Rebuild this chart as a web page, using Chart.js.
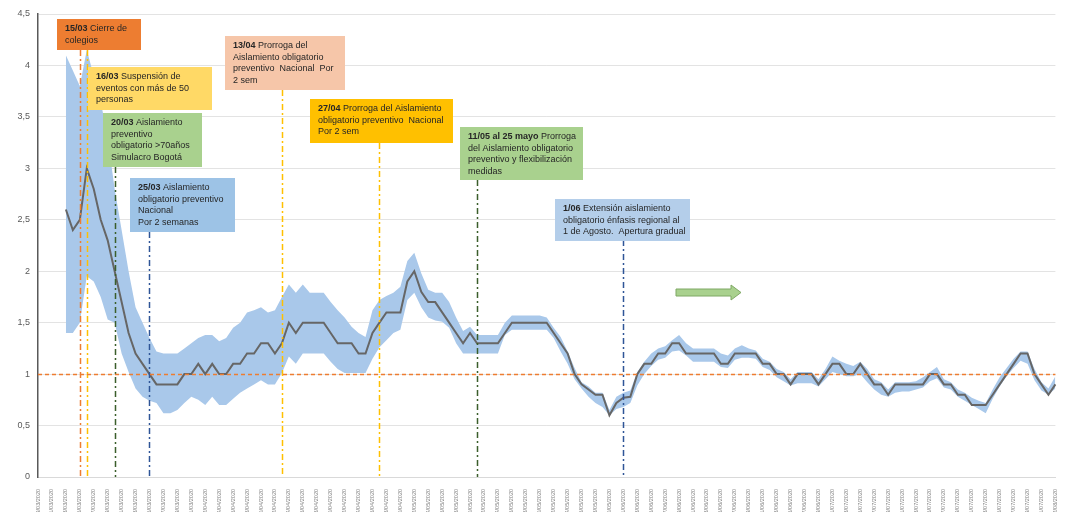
<!DOCTYPE html>
<html>
<head>
<meta charset="utf-8">
<script src="https://cdn.jsdelivr.net/npm/chart.js@4.4.1/dist/chart.umd.min.js"></script>
<style>
  html, body { margin: 0; padding: 0; background: #fff; }
  canvas { display: block; }
</style>
</head>
<body>
<canvas id="grafico" width="1066" height="512"></canvas>
<script>
// fechas diarias del eje x
const fechas = [
  '09/03/2020','10/03/2020','11/03/2020','12/03/2020','13/03/2020','14/03/2020','15/03/2020','16/03/2020','17/03/2020','18/03/2020',
  '19/03/2020','20/03/2020','21/03/2020','22/03/2020','23/03/2020','24/03/2020','25/03/2020','26/03/2020','27/03/2020','28/03/2020',
  '29/03/2020','30/03/2020','31/03/2020','01/04/2020','02/04/2020','03/04/2020','04/04/2020','05/04/2020','06/04/2020','07/04/2020',
  '08/04/2020','09/04/2020','10/04/2020','11/04/2020','12/04/2020','13/04/2020','14/04/2020','15/04/2020','16/04/2020','17/04/2020',
  '18/04/2020','19/04/2020','20/04/2020','21/04/2020','22/04/2020','23/04/2020','24/04/2020','25/04/2020','26/04/2020','27/04/2020',
  '28/04/2020','29/04/2020','30/04/2020','01/05/2020','02/05/2020','03/05/2020','04/05/2020','05/05/2020','06/05/2020','07/05/2020',
  '08/05/2020','09/05/2020','10/05/2020','11/05/2020','12/05/2020','13/05/2020','14/05/2020','15/05/2020','16/05/2020','17/05/2020',
  '18/05/2020','19/05/2020','20/05/2020','21/05/2020','22/05/2020','23/05/2020','24/05/2020','25/05/2020','26/05/2020','27/05/2020',
  '28/05/2020','29/05/2020','30/05/2020','31/05/2020','01/06/2020','02/06/2020','03/06/2020','04/06/2020','05/06/2020','06/06/2020',
  '07/06/2020','08/06/2020','09/06/2020','10/06/2020','11/06/2020','12/06/2020','13/06/2020','14/06/2020','15/06/2020','16/06/2020',
  '17/06/2020','18/06/2020','19/06/2020','20/06/2020','21/06/2020','22/06/2020','23/06/2020','24/06/2020','25/06/2020','26/06/2020',
  '27/06/2020','28/06/2020','29/06/2020','30/06/2020','01/07/2020','02/07/2020','03/07/2020','04/07/2020','05/07/2020','06/07/2020',
  '07/07/2020','08/07/2020','09/07/2020','10/07/2020','11/07/2020','12/07/2020','13/07/2020','14/07/2020','15/07/2020','16/07/2020',
  '17/07/2020','18/07/2020','19/07/2020','20/07/2020','21/07/2020','22/07/2020','23/07/2020','24/07/2020','25/07/2020','26/07/2020',
  '27/07/2020','28/07/2020','29/07/2020','30/07/2020','31/07/2020','01/08/2020','02/08/2020'
];

// Rt estimado
const rt = [null, null, null, null,
  2.6, 2.4, 2.5, 3.0, 2.8, 2.5, 2.3, 2.0, 1.7, 1.4,
  1.2, 1.1, 1.0, 0.9, 0.9, 0.9, 0.9, 1.0, 1.0, 1.1,
  1.0, 1.1, 1.0, 1.0, 1.1, 1.1, 1.2, 1.2, 1.3, 1.3,
  1.2, 1.3, 1.5, 1.4, 1.5, 1.5, 1.5, 1.5, 1.4, 1.3,
  1.3, 1.3, 1.2, 1.2, 1.4, 1.5, 1.6, 1.6, 1.6, 1.9,
  2.0, 1.8, 1.7, 1.7, 1.6, 1.5, 1.4, 1.3, 1.4, 1.3,
  1.3, 1.3, 1.3, 1.4, 1.5, 1.5, 1.5, 1.5, 1.5, 1.5,
  1.4, 1.3, 1.2, 1.0, 0.9, 0.85, 0.8, 0.8, 0.6, 0.72,
  0.77, 0.78, 1.0, 1.1, 1.1, 1.2, 1.2, 1.3, 1.3, 1.2,
  1.2, 1.2, 1.2, 1.2, 1.1, 1.1, 1.2, 1.2, 1.2, 1.2,
  1.1, 1.1, 1.0, 1.0, 0.9, 1.0, 1.0, 1.0, 0.9, 1.0,
  1.1, 1.1, 1.0, 1.0, 1.1, 1.0, 0.9, 0.9, 0.8, 0.9,
  0.9, 0.9, 0.9, 0.9, 1.0, 1.0, 0.9, 0.9, 0.8, 0.8,
  0.7, 0.7, 0.7, 0.8, 0.9, 1.0, 1.1, 1.2, 1.2, 1.0,
  0.9, 0.8, 0.9
];

// limite superior del intervalo
const rtAlto = [null, null, null, null,
  4.1, 3.95, 3.8, 4.15, 3.9, 3.65, 3.3, 2.8, 2.4, 2.0,
  1.65, 1.5, 1.35, 1.22, 1.2, 1.2, 1.2, 1.25, 1.3, 1.35,
  1.38, 1.38, 1.32, 1.35, 1.45, 1.5, 1.6, 1.62, 1.65, 1.6,
  1.62, 1.75, 1.87, 1.79, 1.87, 1.79, 1.79, 1.79, 1.7, 1.62,
  1.55, 1.46, 1.4, 1.36, 1.62, 1.72, 1.76, 1.79, 1.85, 2.1,
  2.18, 1.98, 1.82, 1.79, 1.79, 1.7, 1.55, 1.42, 1.46, 1.38,
  1.38, 1.38, 1.38, 1.5, 1.57, 1.57, 1.57, 1.57, 1.57, 1.55,
  1.45, 1.36, 1.22, 1.06, 0.92, 0.88, 0.82, 0.82, 0.65, 0.78,
  0.82, 0.84, 1.02, 1.12, 1.2, 1.25, 1.27, 1.33, 1.38, 1.3,
  1.25, 1.25, 1.25, 1.25, 1.2, 1.18, 1.25, 1.28, 1.25, 1.23,
  1.15, 1.12, 1.05, 1.02, 0.95, 1.02, 1.02, 1.02, 0.95, 1.05,
  1.17, 1.13, 1.1, 1.08, 1.12, 1.05, 0.95, 0.92, 0.85, 0.92,
  0.92, 0.92, 0.93, 0.97, 1.02, 1.07, 0.95, 0.92, 0.85, 0.82,
  0.77, 0.74, 0.72, 0.85, 0.97, 1.06, 1.15, 1.22, 1.22, 1.05,
  0.92, 0.86, 0.98
];

// limite inferior del intervalo
const rtBajo = [null, null, null, null,
  1.4, 1.4, 1.5, 1.95, 1.9, 1.75, 1.53, 1.5, 1.2, 1.02,
  0.86, 0.78, 0.74, 0.72, 0.62, 0.62, 0.65, 0.72, 0.78, 0.75,
  0.7, 0.78, 0.7, 0.7, 0.76, 0.82, 0.86, 0.9, 0.94, 0.9,
  0.9, 1.01, 1.17, 1.1, 1.2, 1.2, 1.2, 1.2, 1.12, 1.05,
  1.01, 1.01, 1.01, 1.01, 1.15, 1.26, 1.33, 1.4, 1.43, 1.72,
  1.79, 1.65, 1.55, 1.52, 1.51, 1.45, 1.3, 1.2, 1.2, 1.2,
  1.2, 1.2, 1.2, 1.38, 1.43, 1.43, 1.43, 1.43, 1.43, 1.43,
  1.35, 1.22, 1.1, 0.95, 0.86, 0.78, 0.72, 0.68, 0.6, 0.66,
  0.68, 0.72, 0.89, 1.0, 1.08, 1.14, 1.16, 1.22, 1.23, 1.18,
  1.12, 1.12, 1.12, 1.12, 1.07, 1.06, 1.14, 1.16, 1.16, 1.15,
  1.07, 1.04, 0.97, 0.93, 0.89, 0.91, 0.91, 0.91, 0.88, 0.95,
  1.02, 1.0, 0.98, 0.98, 1.0, 0.92, 0.85, 0.8, 0.78, 0.82,
  0.83, 0.83, 0.85, 0.87, 0.93, 0.96, 0.87, 0.85, 0.78, 0.74,
  0.7, 0.66, 0.62, 0.76, 0.88, 0.98, 1.06, 1.13, 1.1, 0.94,
  0.84, 0.8, 0.86
];

const umbral = 1;

// eventos (linea vertical en la fecha)
const eventos = [
  { fecha: '15/03/2020', color: '#ED7D31', desde: 50 },
  { fecha: '16/03/2020', color: '#FFC000', desde: 50 },
  { fecha: '20/03/2020', color: '#3B5E2B', desde: 167 },
  { fecha: '25/03/2020', color: '#2F5597', desde: 232 },
  { fecha: '13/04/2020', color: '#FFC000', desde: 90 },
  { fecha: '27/04/2020', color: '#FFC000', desde: 143 },
  { fecha: '11/05/2020', color: '#3B5E2B', desde: 180 },
  { fecha: '01/06/2020', color: '#2F5597', desde: 240 }
];

// cuadros de texto
const cuadros = [
  { x: 57, y: 19, w: 84, h: 31, fondo: '#ED7D31', negrita: '15/03', lineas: [' Cierre de', 'colegios'] },
  { x: 88, y: 67, w: 124, h: 43, fondo: '#FFD966', negrita: '16/03', lineas: [' Suspensión de', 'eventos con más de 50', 'personas'] },
  { x: 103, y: 113, w: 99, h: 54, fondo: '#A9D18E', negrita: '20/03', lineas: [' Aislamiento', 'preventivo', 'obligatorio >70años', 'Simulacro Bogotá'] },
  { x: 130, y: 178, w: 105, h: 54, fondo: '#9DC3E6', negrita: '25/03', lineas: [' Aislamiento', 'obligatorio preventivo', 'Nacional', 'Por 2 semanas'] },
  { x: 225, y: 36, w: 120, h: 54, fondo: '#F6C6A9', negrita: '13/04', lineas: [' Prorroga del', 'Aislamiento obligatorio', 'preventivo  Nacional  Por', '2 sem'] },
  { x: 310, y: 99, w: 143, h: 44, fondo: '#FFC000', negrita: '27/04', lineas: [' Prorroga del Aislamiento', 'obligatorio preventivo  Nacional', 'Por 2 sem'] },
  { x: 460, y: 127, w: 123, h: 53, fondo: '#A9D18E', negrita: '11/05 al 25 mayo', lineas: [' Prorroga', 'del Aislamiento obligatorio', 'preventivo y flexibilización', 'medidas'] },
  { x: 555, y: 199, w: 135, h: 42, fondo: '#B4CEEA', negrita: '1/06', lineas: [' Extensión aislamiento', 'obligatorio énfasis regional al', '1 de Agosto.  Apertura gradual'] }
];

const anotaciones = {
  id: 'anotaciones',
  afterDatasetsDraw(chart) {
    const { ctx, chartArea, scales: { x, y } } = chart;
    ctx.save();

    // lineas verticales de eventos
    eventos.forEach(ev => {
      const px = Math.round(x.getPixelForValue(fechas.indexOf(ev.fecha))) + 0.5;
      ctx.strokeStyle = ev.color;
      ctx.lineWidth = 1.5;
      ctx.setLineDash([6, 3, 2, 3]);
      ctx.beginPath();
      ctx.moveTo(px, ev.desde);
      ctx.lineTo(px, chartArea.bottom);
      ctx.stroke();
    });

    // linea Rt = 1
    const py = Math.round(y.getPixelForValue(umbral)) + 0.5;
    ctx.strokeStyle = '#ED7D31';
    ctx.lineWidth = 1.5;
    ctx.setLineDash([4, 3]);
    ctx.beginPath();
    ctx.moveTo(chartArea.left, py);
    ctx.lineTo(chartArea.right, py);
    ctx.stroke();
    ctx.setLineDash([]);

    // cuadros
    ctx.textBaseline = 'middle';
    cuadros.forEach(c => {
      ctx.fillStyle = c.fondo;
      ctx.fillRect(c.x, c.y, c.w, c.h);
      ctx.fillStyle = '#262626';
      let ty = c.y + 10;
      ctx.font = 'bold 9px "Liberation Sans", Arial, sans-serif';
      ctx.fillText(c.negrita, c.x + 8, ty);
      const ancho = ctx.measureText(c.negrita).width;
      ctx.font = '9px "Liberation Sans", Arial, sans-serif';
      c.lineas.forEach((l, i) => {
        if (i === 0) {
          ctx.fillText(l, c.x + 8 + ancho, ty);
        } else {
          ctx.fillText(l, c.x + 8, ty);
        }
        ty += 11.5;
      });
    });

    // flecha verde
    ctx.fillStyle = '#A9D18E';
    ctx.strokeStyle = '#7FA864';
    ctx.lineWidth = 1;
    ctx.beginPath();
    ctx.moveTo(676, 289);
    ctx.lineTo(731, 289);
    ctx.lineTo(731, 285);
    ctx.lineTo(741, 292.5);
    ctx.lineTo(731, 300);
    ctx.lineTo(731, 296);
    ctx.lineTo(676, 296);
    ctx.closePath();
    ctx.fill();
    ctx.stroke();

    ctx.restore();
  }
};

const config = {
  type: 'line',
  data: {
    labels: fechas,
    datasets: [
      {
        label: 'Rt',
        data: rt,
        borderColor: '#666666',
        borderWidth: 2,
        pointRadius: 0,
        tension: 0,
        fill: false
      },
      {
        label: 'Límite superior',
        data: rtAlto,
        borderWidth: 0,
        borderColor: 'rgba(0,0,0,0)',
        backgroundColor: '#A9C8EA',
        pointRadius: 0,
        tension: 0,
        fill: '+1'
      },
      {
        label: 'Límite inferior',
        data: rtBajo,
        borderWidth: 0,
        borderColor: 'rgba(0,0,0,0)',
        pointRadius: 0,
        tension: 0,
        fill: false
      }
    ]
  },
  options: {
    responsive: false,
    animation: false,
    layout: { padding: { top: 14, right: 4, left: 0, bottom: 0 } },
    plugins: {
      legend: { display: false },
      tooltip: { enabled: false }
    },
    scales: {
      x: {
        grid: { display: false },
        border: { color: '#d9d9d9', width: 1 },
        ticks: {
          autoSkip: false,
          maxRotation: 90,
          minRotation: 90,
          padding: 4,
          color: '#7f7f7f',
          font: { size: 5.5, family: '"Liberation Sans", Arial, sans-serif' },
          callback: function (val, idx) {
            return idx % 2 === 0 ? this.getLabelForValue(val) : '';
          }
        },
        afterFit: s => { s.height = 35; }
      },
      y: {
        min: 0,
        max: 4.5,
        grid: { color: '#e3e3e3', drawTicks: false },
        border: { color: '#595959', width: 1.5 },
        ticks: {
          stepSize: 0.5,
          padding: 8,
          color: '#595959',
          font: { size: 9, family: '"Liberation Sans", Arial, sans-serif' },
          callback: v => String(v).replace('.', ',')
        },
        afterFit: s => { s.width = 38; }
      }
    }
  },
  plugins: [anotaciones]
};

new Chart(document.getElementById('grafico'), config);
</script>
</body>
</html>
